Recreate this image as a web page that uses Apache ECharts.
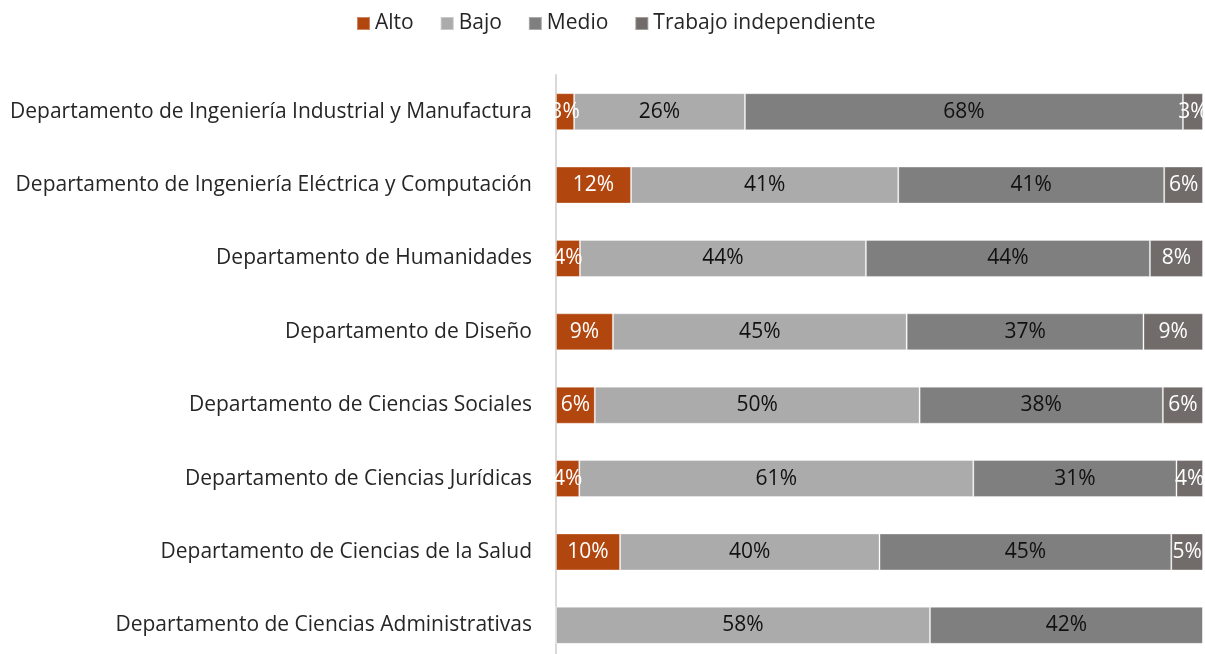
<!DOCTYPE html>
<html lang="es">
<head>
    <meta charset="UTF-8">
    <title>Departamentos</title>
    <script src="https://cdn.jsdelivr.net/npm/echarts@6/dist/echarts.min.js"></script>
    <style>
        html, body { margin: 0; padding: 0; background: #fff; overflow: hidden; }
        #main { width: 1205px; height: 662px; }
    </style>
</head>
<body>
<div id="main"></div>
<script>
    var categories = [
        'Departamento de Ingeniería Industrial y Manufactura',
        'Departamento de Ingeniería Eléctrica y Computación',
        'Departamento de Humanidades',
        'Departamento de Diseño',
        'Departamento de Ciencias Sociales',
        'Departamento de Ciencias Jurídicas',
        'Departamento de Ciencias de la Salud',
        'Departamento de Ciencias Administrativas'
    ];
    var alto    = [2.8, 11.6, 3.7, 8.8, 6.0, 3.6, 9.9, 0];
    var bajo    = [26.4, 41.3, 44.2, 45.4, 50.2, 60.9, 40.1, 57.8];
    var medio   = [67.7, 41.1, 43.9, 36.6, 37.6, 31.4, 45.1, 42.2];
    var trabajo = [3.1, 6.0, 8.2, 9.2, 6.2, 4.1, 4.9, 0];

    var font = 'Open Sans';

    // una serie apilada por nivel
    function makeSeries(name, data, color, labelColor) {
        return {
            name: name,
            type: 'bar',
            stack: 'total',
            data: data,
            barWidth: 37,
            itemStyle: { color: color, borderColor: 'rgba(255,255,255,0.35)', borderWidth: 1 },
            label: {
                show: true,
                position: 'inside',
                color: labelColor,
                fontFamily: font,
                fontSize: 21,
                formatter: function (p) {
                    return p.value > 0 ? Math.round(p.value) + '%' : '';
                }
            }
        };
    }

    var myChart = echarts.init(document.getElementById('main'));
    var option = {
        animation: false,
        legend: {
            top: 8,
            left: 351,
            itemWidth: 13,
            itemHeight: 13,
            itemGap: 26,
            icon: 'rect',
            textStyle: { fontFamily: font, fontSize: 21, color: '#262626' }
        },
        grid: { left: 556, right: 2, top: 75, bottom: 0 },
        xAxis: { type: 'value', min: 0, max: 100, show: false },
        yAxis: {
            type: 'category',
            inverse: true,
            data: categories,
            axisLine: { lineStyle: { color: '#d9d9d9', width: 2 } },
            axisTick: { show: false },
            axisLabel: { margin: 24, fontFamily: font, fontSize: 21, color: '#262626' }
        },
        series: [
            makeSeries('Alto', alto, '#b1460f', '#ffffff'),
            makeSeries('Bajo', bajo, '#ababab', '#111111'),
            makeSeries('Medio', medio, '#7f7f7f', '#111111'),
            makeSeries('Trabajo independiente', trabajo, '#716b69', '#ffffff')
        ]
    };
    myChart.setOption(option);
</script>
</body>
</html>
